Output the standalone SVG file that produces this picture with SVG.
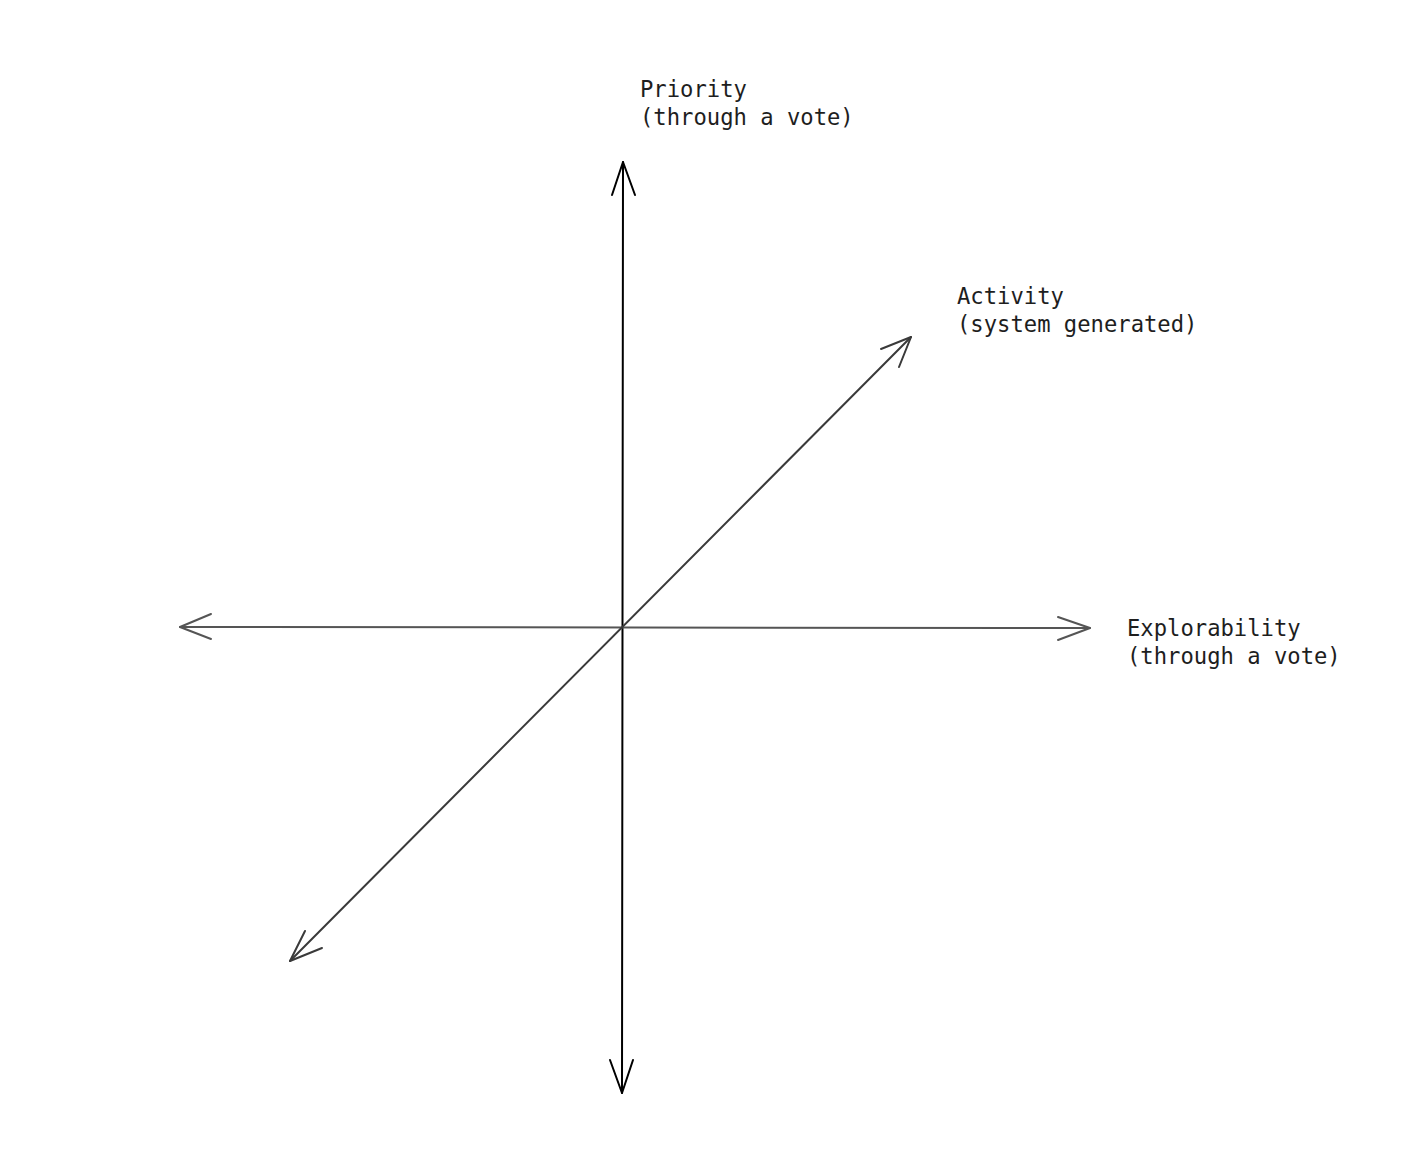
<svg xmlns="http://www.w3.org/2000/svg" width="1415" height="1161" viewBox="0 0 1415 1161">
<style>
.lbl{font-family:"DejaVu Sans Mono","Liberation Mono",monospace;font-size:22.2px;fill:#1e1e1e}
.ax{fill:none;stroke-width:2;stroke-linecap:round;stroke-linejoin:round}
</style>
<rect width="1415" height="1161" fill="#fff"/>
<g id="connectors">
<g id="vertical-axis" class="ax" stroke="#000">
<path d="M623 162 L622 1093"/>
<path d="M612 195 L623 162 L635 195"/>
<path d="M610 1060 L622 1093 L633 1060"/>
</g>
<g id="horizontal-axis" class="ax" stroke="#555">
<path d="M180 627 L1090 628"/>
<path d="M211 614 L180 627 L211 639"/>
<path d="M1058 617 L1090 628 L1058 640"/>
</g>
<g id="diagonal-axis" class="ax" stroke="#3a3a3a" stroke-width="2.5">
<path d="M290 961 L911 337"/>
<path d="M881 349 L911 337 L899 367"/>
<path d="M305 931 L290 961 L322 948"/>
</g>
</g>
<g id="label-priority"><text class="lbl" x="640" y="97">Priority</text><text class="lbl" x="640" y="125">(through a vote)</text></g>
<g id="label-activity"><text class="lbl" x="957" y="304">Activity</text><text class="lbl" x="957" y="332">(system generated)</text></g>
<g id="label-explorability"><text class="lbl" x="1127" y="636">Explorability</text><text class="lbl" x="1127" y="664">(through a vote)</text></g>
</svg>
